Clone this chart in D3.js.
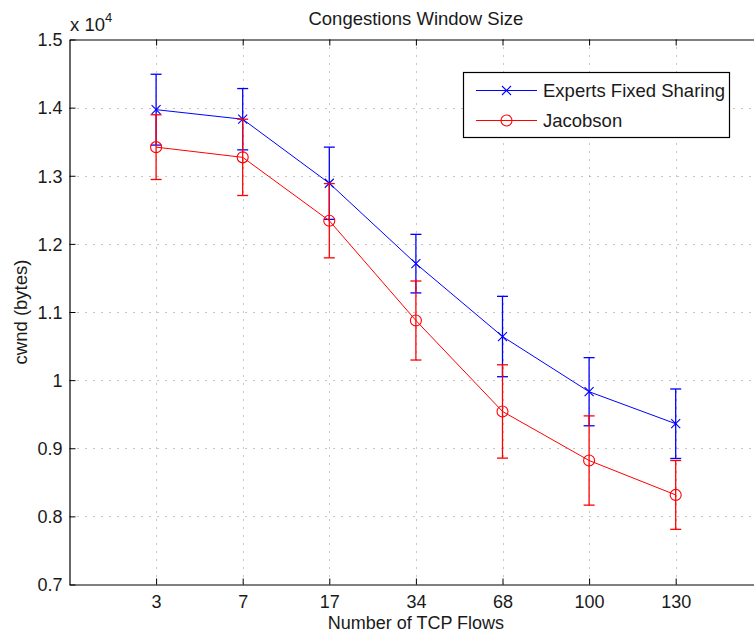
<!DOCTYPE html>
<html>
<head>
<meta charset="utf-8">
<script src="https://cdn.jsdelivr.net/npm/d3@7"></script>
<style>
  html, body { margin: 0; padding: 0; background: #fff; }
  svg { display: block; }
  text { font-family: "Liberation Sans", Arial, Helvetica, sans-serif; fill: #1a1a1a; }
</style>
</head>
<body>
<svg id="chart" width="754" height="634"></svg>
<script>
// ---- data ----
const categories = ["3", "7", "17", "34", "68", "100", "130"];
const expertsMean = [13970, 13830, 12890, 11710, 10640, 9830, 9360];
const expertsErr  = [520, 450, 530, 430, 590, 500, 510];
const jacobsonMean = [13420, 13270, 12340, 10875, 9540, 8820, 8315];
const jacobsonErr  = [475, 560, 545, 580, 685, 655, 505];
const yTickValues = [7000, 8000, 9000, 10000, 11000, 12000, 13000, 14000, 15000];
const yTickLabels = ["0.7", "0.8", "0.9", "1", "1.1", "1.2", "1.3", "1.4", "1.5"];
const seriesNames = ["Experts Fixed Sharing", "Jacobson"];
const seriesColors = ["#0000ff", "#ff0000"];

(function () {
// ---- layout ----
const pLeft = 69.5, pRight = 762.3, pTop = 39.5, pBottom = 584.5;
const FS = 18.5, TFS = 18;

const svg = d3.select("#chart");
const x = d3.scaleLinear().domain([0, categories.length + 1]).range([pLeft, pRight]);
const y = d3.scaleLinear().domain([7000, 15000]).range([pBottom, pTop]);

// grid
const grid = svg.append("g").attr("stroke", "#8c8c8c").attr("stroke-width", 1)
  .attr("stroke-dasharray", "1,7").attr("fill", "none");
categories.forEach((c, i) => {
  grid.append("line").attr("x1", Math.round(x(i + 1)) + 0.5).attr("x2", Math.round(x(i + 1)) + 0.5)
    .attr("y1", pTop).attr("y2", pBottom);
});
yTickValues.forEach(v => {
  if (v === 7000 || v === 15000) return;
  grid.append("line").attr("x1", pLeft).attr("x2", pRight)
    .attr("y1", Math.round(y(v)) + 0.5).attr("y2", Math.round(y(v)) + 0.5);
});

// axes (MATLAB-style box with inward ticks)
const tickLen = 6;
const xAxisB = d3.axisBottom(x).tickValues(categories.map((c, i) => i + 1))
  .tickFormat((d) => categories[d - 1]).tickSizeInner(-tickLen).tickSizeOuter(0).tickPadding(10.5);
const gxb = svg.append("g").attr("transform", `translate(0,${pBottom})`).call(xAxisB);
const xAxisT = d3.axisTop(x).tickValues(categories.map((c, i) => i + 1))
  .tickFormat("").tickSizeInner(-tickLen).tickSizeOuter(0);
const gxt = svg.append("g").attr("transform", `translate(0,${pTop})`).call(xAxisT);
const yAxisL = d3.axisLeft(y).tickValues(yTickValues)
  .tickFormat((d, i) => yTickLabels[i]).tickSizeInner(-tickLen).tickSizeOuter(0).tickPadding(7);
const gyl = svg.append("g").attr("transform", `translate(${pLeft},0)`).call(yAxisL);

[gxb, gxt, gyl].forEach(g => {
  g.select(".domain").attr("stroke", "#000").attr("stroke-width", 1.2);
  g.selectAll(".tick line").attr("stroke", "#000").attr("stroke-width", 1);
  g.selectAll(".tick text").attr("font-size", TFS).attr("fill", "#1a1a1a")
    .attr("font-family", "'Liberation Sans', Arial, Helvetica, sans-serif");
});
gxb.selectAll(".tick text").attr("dy", "0.71em");
gyl.selectAll(".tick text").attr("dy", "0.35em");

// series
const series = [
  { name: seriesNames[0], mean: expertsMean, err: expertsErr, color: seriesColors[0], marker: "x" },
  { name: seriesNames[1], mean: jacobsonMean, err: jacobsonErr, color: seriesColors[1], marker: "o" }
];

function drawMarker(g, type, cx, cy, color) {
  if (type === "x") {
    const s = 4.5;
    g.append("path").attr("d", `M${cx - s},${cy - s}L${cx + s},${cy + s}M${cx - s},${cy + s}L${cx + s},${cy - s}`)
      .attr("stroke", color).attr("stroke-width", 1.1).attr("fill", "none");
  } else {
    g.append("circle").attr("cx", cx).attr("cy", cy).attr("r", 5.5)
      .attr("stroke", color).attr("stroke-width", 1.1).attr("fill", "none");
  }
}

const line = d3.line().x((d, i) => x(i + 1)).y(d => y(d));
series.forEach(s => {
  const g = svg.append("g");
  s.mean.forEach((m, i) => {
    const cx = x(i + 1), hi = y(m + s.err[i]), lo = y(m - s.err[i]);
    const cw = 5.5;
    g.append("line").attr("x1", cx).attr("x2", cx).attr("y1", hi).attr("y2", lo)
      .attr("stroke", s.color).attr("stroke-width", 1.3);
    g.append("line").attr("x1", cx - cw).attr("x2", cx + cw).attr("y1", hi).attr("y2", hi)
      .attr("stroke", s.color).attr("stroke-width", 1.3);
    g.append("line").attr("x1", cx - cw).attr("x2", cx + cw).attr("y1", lo).attr("y2", lo)
      .attr("stroke", s.color).attr("stroke-width", 1.3);
  });
  g.append("path").datum(s.mean).attr("d", line).attr("fill", "none")
    .attr("stroke", s.color).attr("stroke-width", 1);
  s.mean.forEach((m, i) => drawMarker(g, s.marker, x(i + 1), y(m), s.color));
});

// legend
const lg = svg.append("g");
lg.append("rect").attr("x", 463.5).attr("y", 72.5).attr("width", 266).attr("height", 65)
  .attr("fill", "#fff").attr("stroke", "#000").attr("stroke-width", 1.2);
series.forEach((s, i) => {
  const ly = i === 0 ? 90.5 : 120.5;
  lg.append("line").attr("x1", 476).attr("x2", 537).attr("y1", ly).attr("y2", ly)
    .attr("stroke", s.color).attr("stroke-width", 1);
  drawMarker(lg, s.marker, 506.5, ly, s.color);
  lg.append("text").attr("x", 543).attr("y", ly + 6.3).attr("font-size", FS).text(s.name);
});

// titles
svg.append("text").attr("x", (pLeft + pRight) / 2).attr("y", 25).attr("text-anchor", "middle")
  .attr("font-size", FS).text("Congestions Window Size");
svg.append("text").attr("x", (pLeft + pRight) / 2).attr("y", 629).attr("text-anchor", "middle")
  .attr("font-size", 18).text("Number of TCP Flows");
svg.append("text").attr("transform", `translate(27,${(pTop + pBottom) / 2}) rotate(-90)`)
  .attr("text-anchor", "middle").attr("font-size", FS).text("cwnd (bytes)");
const ex = svg.append("text").attr("x", 70).attr("y", 31).attr("font-size", FS);
ex.append("tspan").text("x 10");
ex.append("tspan").attr("font-size", 13).attr("dy", -9).text("4");
})();
</script>
</body>
</html>
